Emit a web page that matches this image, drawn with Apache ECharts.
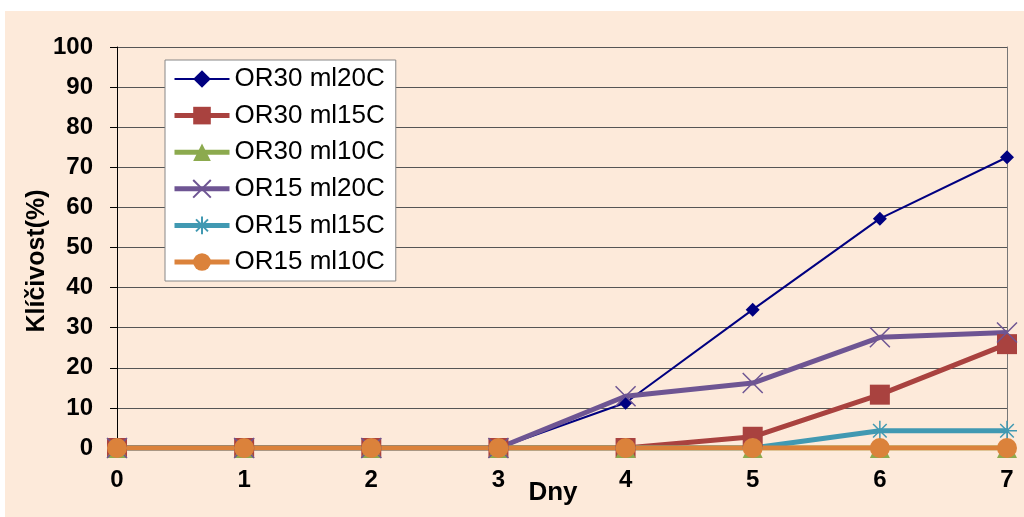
<!DOCTYPE html>
<html>
<head>
<meta charset="utf-8">
<script src="https://cdn.jsdelivr.net/npm/echarts@6/dist/echarts.min.js"></script>
<style>
html,body{margin:0;padding:0;background:#fff;}
#chart{width:1024px;height:517px;}
</style>
</head>
<body>
<div id="chart"></div>
<script>
// Data
var days = ['0', '1', '2', '3', '4', '5', '6', '7'];
var seriesNames = ['OR30 ml20C', 'OR30 ml15C', 'OR30 ml10C', 'OR15 ml20C', 'OR15 ml15C', 'OR15 ml10C'];
var or30ml20 = [0, 0, 0, 0, 11.3, 34.5, 57.2, 72.5];
var or30ml15 = [0, 0, 0, 0, 0, 2.8, 13.3, 25.9];
var or30ml10 = [0, 0, 0, 0, 0, 0, 0, 0];
var or15ml20 = [0, 0, 0, 0, 12.9, 16.2, 27.6, 28.8];
var or15ml15 = [0, 0, 0, 0, 0, 0, 4.3, 4.3];
var or15ml10 = [0, 0, 0, 0, 0, 0, 0, 0];
var yTicks = [0, 10, 20, 30, 40, 50, 60, 70, 80, 90, 100];

var FONT = '"Liberation Sans", Arial, sans-serif';
var chart = echarts.init(document.getElementById('chart'), null, {renderer: 'canvas'});

var xSym = 'path://M0 0L10 10M10 0L0 10';
var starSym = 'path://M0 5L10 5M5 0L5 10M1.6 1.6L8.4 8.4M8.4 1.6L1.6 8.4';
var lineWidths = [2, 5, 5, 5, 5, 5];

function mk(name, data, color, width, symbol, size, extra) {
  var s = {
    name: name, type: 'line', data: data,
    symbol: symbol, symbolSize: size,
    lineStyle: {color: color, width: width},
    itemStyle: {color: color},
    animation: false
  };
  if (extra) s.itemStyle = extra;
  return s;
}

var option = {
  backgroundColor: 'transparent',
  animation: false,
  graphic: [
    {type: 'rect', z: -10, silent: true, shape: {x: 5, y: 11, width: 1019, height: 506}, style: {fill: '#FDEADA'}},
    {type: 'text', x: 37, y: 261, rotation: Math.PI / 2,
     style: {text: 'Klíčivost(%)', font: 'bold 25px ' + FONT, fill: '#000', textAlign: 'center', textVerticalAlign: 'middle'}},
    {type: 'text', x: 553, y: 493,
     style: {text: 'Dny', font: 'bold 26px ' + FONT, fill: '#000', textAlign: 'center', textVerticalAlign: 'middle'}}
  ],
  grid: {left: 117, right: 17, top: 47, bottom: 69, containLabel: false},
  legend: {
    orient: 'vertical', left: 165, top: 60,
    data: seriesNames.map(function (n, i) { return {name: n, lineStyle: {width: lineWidths[i]}}; }),
    backgroundColor: '#fff', borderColor: '#888', borderWidth: 1,
    padding: [6, 11, 6, 7],
    itemWidth: 55, itemHeight: 22, itemGap: 10.6,
    textStyle: {fontFamily: FONT, fontSize: 26, color: '#000', lineHeight: 24}
  },
  xAxis: {
    type: 'category', data: days, boundaryGap: false,
    axisLine: {lineStyle: {color: '#000', width: 1}},
    axisTick: {show: false},
    axisLabel: {fontFamily: FONT, fontWeight: 'bold', fontSize: 24, color: '#000', margin: 20},
    splitLine: {show: false}
  },
  yAxis: [{
    type: 'value', min: yTicks[0], max: yTicks[yTicks.length - 1], interval: 10,
    axisLine: {show: true, lineStyle: {color: '#000', width: 1}},
    axisTick: {show: true, length: 7, lineStyle: {color: '#000'}},
    axisLabel: {fontFamily: FONT, fontWeight: 'bold', fontSize: 24, color: '#000', margin: 24},
    splitLine: {show: true, lineStyle: {color: '#555', width: 1}}
  }, {
    type: 'value', min: 0, max: 100, position: 'right',
    axisLine: {show: true, lineStyle: {color: '#777', width: 1}},
    axisTick: {show: false}, axisLabel: {show: false}, splitLine: {show: false}
  }],
  series: [
    mk(seriesNames[0], or30ml20, '#000080', lineWidths[0], 'diamond', 14),
    mk(seriesNames[1], or30ml15, '#A9423F', lineWidths[1], 'rect', 20),
    mk(seriesNames[2], or30ml10, '#8CAA4E', lineWidths[2], 'triangle', 20),
    mk(seriesNames[3], or15ml20, '#6E5593', lineWidths[3], xSym, 20, {color: 'none', borderColor: '#6E5593', borderWidth: 1.5}),
    mk(seriesNames[4], or15ml15, '#4199B2', lineWidths[4], starSym, 20, {color: 'none', borderColor: '#4199B2', borderWidth: 1.5}),
    mk(seriesNames[5], or15ml10, '#DB823B', lineWidths[5], 'circle', 20)
  ]
};
chart.setOption(option);
</script>
</body>
</html>
